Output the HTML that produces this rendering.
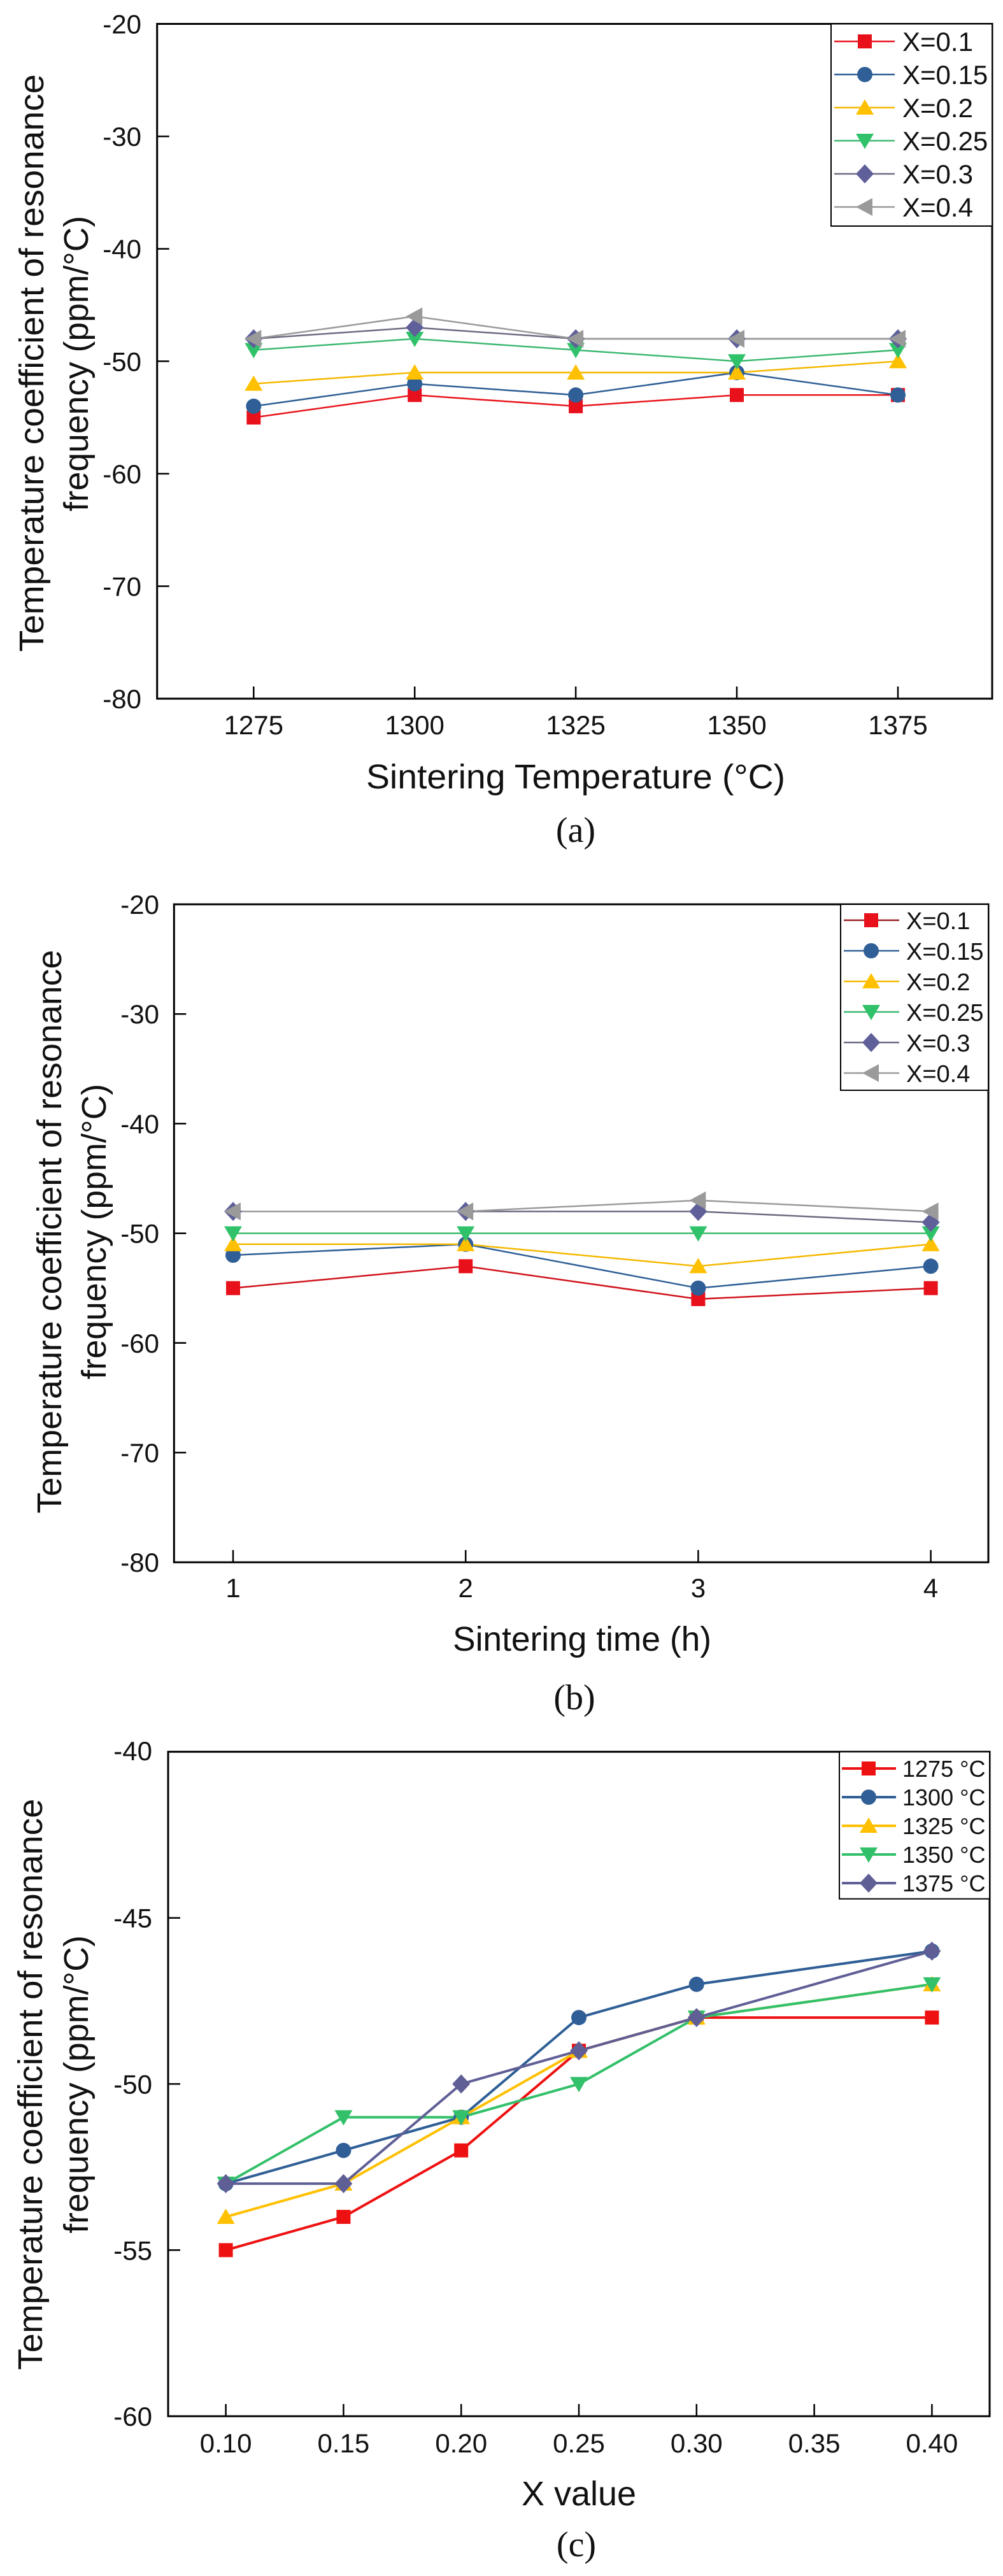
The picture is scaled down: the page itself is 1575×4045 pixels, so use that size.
<!DOCTYPE html>
<html>
<head>
<meta charset="utf-8">
<style>
  html,body{margin:0;padding:0;background:#fff;}
  svg{display:block;}
  .t{font-family:"Liberation Sans",Arial,sans-serif;fill:#111;}
  .s{font-family:"Liberation Serif","Times New Roman",serif;fill:#111;}
</style>
</head>
<body>
<svg width="1575" height="4045" viewBox="0 0 1575 4045" xmlns="http://www.w3.org/2000/svg">
<defs>
  <rect id="sq" x="-11" y="-11" width="22" height="22"/>
  <circle id="ci" cx="0" cy="0" r="12"/>
  <polygon id="tu" points="-14,11 14,11 0,-13"/>
  <polygon id="td" points="-14,-11 14,-11 0,13"/>
  <polygon id="di" points="0,-15 14,0 0,15 -14,0"/>
  <polygon id="tl" points="-14,0 12,-14 12,14"/>
</defs>
<rect width="1575" height="4045" fill="#fff"/>

<!-- ================= (a) ================= -->
<g>
  <rect x="246.7" y="37.5" width="1311.3" height="1059.6" fill="none" stroke="#000" stroke-width="3"/>
  <g stroke="#000" stroke-width="2.5">
    <line x1="246.7" y1="214.1" x2="265.7" y2="214.1"/>
    <line x1="246.7" y1="390.7" x2="265.7" y2="390.7"/>
    <line x1="246.7" y1="567.3" x2="265.7" y2="567.3"/>
    <line x1="246.7" y1="743.9" x2="265.7" y2="743.9"/>
    <line x1="246.7" y1="920.5" x2="265.7" y2="920.5"/>
    <line x1="398.3" y1="1097.1" x2="398.3" y2="1078"/>
    <line x1="651.2" y1="1097.1" x2="651.2" y2="1078"/>
    <line x1="904.1" y1="1097.1" x2="904.1" y2="1078"/>
    <line x1="1157" y1="1097.1" x2="1157" y2="1078"/>
    <line x1="1410" y1="1097.1" x2="1410" y2="1078"/>
  </g>
  <g class="t" font-size="42" text-anchor="end">
    <text x="222" y="52.5">-20</text>
    <text x="222" y="229.1">-30</text>
    <text x="222" y="405.7">-40</text>
    <text x="222" y="582.3">-50</text>
    <text x="222" y="758.9">-60</text>
    <text x="222" y="935.5">-70</text>
    <text x="222" y="1112.1">-80</text>
  </g>
  <g class="t" font-size="42" text-anchor="middle">
    <text x="398.3" y="1153">1275</text>
    <text x="651.2" y="1153">1300</text>
    <text x="904.1" y="1153">1325</text>
    <text x="1157" y="1153">1350</text>
    <text x="1410" y="1153">1375</text>
  </g>
  <text class="t" font-size="54" text-anchor="middle" x="904" y="1238" textLength="658" lengthAdjust="spacingAndGlyphs">Sintering Temperature (°C)</text>
  <text class="t" font-size="54" text-anchor="middle" transform="translate(68 570) rotate(-90)" textLength="907" lengthAdjust="spacingAndGlyphs">Temperature coefficient of resonance</text>
  <text class="t" font-size="54" text-anchor="middle" transform="translate(138 571) rotate(-90)" textLength="464" lengthAdjust="spacingAndGlyphs">frequency (ppm/°C)</text>
  <text class="s" font-size="56" text-anchor="middle" x="904" y="1322">(a)</text>

  <g fill="none" stroke-width="2.5" stroke-linejoin="round">
    <polyline stroke="#e8141c" points="398.3,655.6 651.2,620.3 904.1,637.9 1157,620.3 1410,620.3"/>
    <polyline stroke="#2f5f96" points="398.3,637.9 651.2,602.6 904.1,620.3 1157,585 1410,620.3"/>
    <polyline stroke="#f5b800" points="398.3,602.6 651.2,585 904.1,585 1157,585 1410,567.3"/>
    <polyline stroke="#3db872" points="398.3,549.6 651.2,532 904.1,549.6 1157,567.3 1410,549.6"/>
    <polyline stroke="#6b6b82" points="398.3,532 651.2,514.3 904.1,532 1157,532 1410,532"/>
    <polyline stroke="#9a9a9a" points="398.3,532 651.2,496.7 904.1,532 1157,532 1410,532"/>
  </g>
  <g fill="#e8101a">
    <use href="#sq" x="398.3" y="655.6"/><use href="#sq" x="651.2" y="620.3"/><use href="#sq" x="904.1" y="637.9"/><use href="#sq" x="1157" y="620.3"/><use href="#sq" x="1410" y="620.3"/>
  </g>
  <g fill="#2f5f96">
    <use href="#ci" x="398.3" y="637.9"/><use href="#ci" x="651.2" y="602.6"/><use href="#ci" x="904.1" y="620.3"/><use href="#ci" x="1157" y="585"/><use href="#ci" x="1410" y="620.3"/>
  </g>
  <g fill="#ffc000">
    <use href="#tu" x="398.3" y="602.6"/><use href="#tu" x="651.2" y="585"/><use href="#tu" x="904.1" y="585"/><use href="#tu" x="1157" y="585"/><use href="#tu" x="1410" y="567.3"/>
  </g>
  <g fill="#30c26a">
    <use href="#td" x="398.3" y="549.6"/><use href="#td" x="651.2" y="532"/><use href="#td" x="904.1" y="549.6"/><use href="#td" x="1157" y="567.3"/><use href="#td" x="1410" y="549.6"/>
  </g>
  <g fill="#5f5f9a">
    <use href="#di" x="398.3" y="532"/><use href="#di" x="651.2" y="514.3"/><use href="#di" x="904.1" y="532"/><use href="#di" x="1157" y="532"/><use href="#di" x="1410" y="532"/>
  </g>
  <g fill="#9a9a9a">
    <use href="#tl" x="398.3" y="532"/><use href="#tl" x="651.2" y="496.7"/><use href="#tl" x="904.1" y="532"/><use href="#tl" x="1157" y="532"/><use href="#tl" x="1410" y="532"/>
  </g>

  <!-- legend a -->
  <rect x="1305" y="37.5" width="253" height="317.5" fill="#fff" stroke="#000" stroke-width="2"/>
  <g stroke-width="2.5">
    <line x1="1310" y1="65" x2="1405" y2="65" stroke="#e8141c"/>
    <line x1="1310" y1="117" x2="1405" y2="117" stroke="#2f5f96"/>
    <line x1="1310" y1="169" x2="1405" y2="169" stroke="#f5b800"/>
    <line x1="1310" y1="221" x2="1405" y2="221" stroke="#3db872"/>
    <line x1="1310" y1="273" x2="1405" y2="273" stroke="#6b6b82"/>
    <line x1="1310" y1="325" x2="1405" y2="325" stroke="#9a9a9a"/>
  </g>
  <use href="#sq" x="1358" y="65" fill="#e8101a"/>
  <use href="#ci" x="1358" y="117" fill="#2f5f96"/>
  <use href="#tu" x="1358" y="169" fill="#ffc000"/>
  <use href="#td" x="1358" y="221" fill="#30c26a"/>
  <use href="#di" x="1358" y="273" fill="#5f5f9a"/>
  <use href="#tl" x="1358" y="325" fill="#9a9a9a"/>
  <g class="t" font-size="42">
    <text x="1417" y="80">X=0.1</text>
    <text x="1417" y="132">X=0.15</text>
    <text x="1417" y="184">X=0.2</text>
    <text x="1417" y="236">X=0.25</text>
    <text x="1417" y="288">X=0.3</text>
    <text x="1417" y="340">X=0.4</text>
  </g>
</g>

<!-- ================= (b) ================= -->
<g>
  <rect x="273.3" y="1420" width="1278.7" height="1033.2" fill="none" stroke="#000" stroke-width="3"/>
  <g stroke="#000" stroke-width="2.5">
    <line x1="273.3" y1="1592.2" x2="292.3" y2="1592.2"/>
    <line x1="273.3" y1="1764.4" x2="292.3" y2="1764.4"/>
    <line x1="273.3" y1="1936.6" x2="292.3" y2="1936.6"/>
    <line x1="273.3" y1="2108.8" x2="292.3" y2="2108.8"/>
    <line x1="273.3" y1="2281" x2="292.3" y2="2281"/>
    <line x1="366" y1="2453.2" x2="366" y2="2434"/>
    <line x1="731.2" y1="2453.2" x2="731.2" y2="2434"/>
    <line x1="1096.4" y1="2453.2" x2="1096.4" y2="2434"/>
    <line x1="1461.6" y1="2453.2" x2="1461.6" y2="2434"/>
  </g>
  <g class="t" font-size="42" text-anchor="end">
    <text x="250" y="1435">-20</text>
    <text x="250" y="1607.2">-30</text>
    <text x="250" y="1779.4">-40</text>
    <text x="250" y="1951.6">-50</text>
    <text x="250" y="2123.8">-60</text>
    <text x="250" y="2296">-70</text>
    <text x="250" y="2468.2">-80</text>
  </g>
  <g class="t" font-size="42" text-anchor="middle">
    <text x="366" y="2508">1</text>
    <text x="731.2" y="2508">2</text>
    <text x="1096.4" y="2508">3</text>
    <text x="1461.6" y="2508">4</text>
  </g>
  <text class="t" font-size="53.5" text-anchor="middle" x="914" y="2592" textLength="406" lengthAdjust="spacingAndGlyphs">Sintering time (h)</text>
  <text class="t" font-size="53.5" text-anchor="middle" transform="translate(96 1934) rotate(-90)" textLength="885" lengthAdjust="spacingAndGlyphs">Temperature coefficient of resonance</text>
  <text class="t" font-size="53.5" text-anchor="middle" transform="translate(166 1934) rotate(-90)" textLength="464" lengthAdjust="spacingAndGlyphs">frequency (ppm/°C)</text>
  <text class="s" font-size="56" text-anchor="middle" x="902" y="2684">(b)</text>

  <g fill="none" stroke-width="2.5" stroke-linejoin="round">
    <polyline stroke="#d0121c" points="366,2022.7 731.2,1988.3 1096.4,2039.9 1461.6,2022.7"/>
    <polyline stroke="#2f5f96" points="366,1971 731.2,1953.8 1096.4,2022.7 1461.6,1988.3"/>
    <polyline stroke="#f5b800" points="366,1953.8 731.2,1953.8 1096.4,1988.3 1461.6,1953.8"/>
    <polyline stroke="#3dbd70" points="366,1936.6 731.2,1936.6 1096.4,1936.6 1461.6,1936.6"/>
    <polyline stroke="#6b6b82" points="366,1902.2 731.2,1902.2 1096.4,1902.2 1461.6,1919.4"/>
    <polyline stroke="#9a9a9a" points="366,1902.2 731.2,1902.2 1096.4,1884.9 1461.6,1902.2"/>
  </g>
  <g fill="#e8101a">
    <use href="#sq" x="366" y="2022.7"/><use href="#sq" x="731.2" y="1988.3"/><use href="#sq" x="1096.4" y="2039.9"/><use href="#sq" x="1461.6" y="2022.7"/>
  </g>
  <g fill="#2f5f96">
    <use href="#ci" x="366" y="1971"/><use href="#ci" x="731.2" y="1953.8"/><use href="#ci" x="1096.4" y="2022.7"/><use href="#ci" x="1461.6" y="1988.3"/>
  </g>
  <g fill="#ffc000">
    <use href="#tu" x="366" y="1953.8"/><use href="#tu" x="731.2" y="1953.8"/><use href="#tu" x="1096.4" y="1988.3"/><use href="#tu" x="1461.6" y="1953.8"/>
  </g>
  <g fill="#30c26a">
    <use href="#td" x="366" y="1936.6"/><use href="#td" x="731.2" y="1936.6"/><use href="#td" x="1096.4" y="1936.6"/><use href="#td" x="1461.6" y="1936.6"/>
  </g>
  <g fill="#5f5f9a">
    <use href="#di" x="366" y="1902.2"/><use href="#di" x="731.2" y="1902.2"/><use href="#di" x="1096.4" y="1902.2"/><use href="#di" x="1461.6" y="1919.4"/>
  </g>
  <g fill="#9a9a9a">
    <use href="#tl" x="366" y="1902.2"/><use href="#tl" x="731.2" y="1902.2"/><use href="#tl" x="1096.4" y="1884.9"/><use href="#tl" x="1461.6" y="1902.2"/>
  </g>

  <!-- legend b -->
  <rect x="1320" y="1420" width="232" height="292" fill="#fff" stroke="#000" stroke-width="2"/>
  <g stroke-width="2.5">
    <line x1="1325" y1="1445" x2="1412" y2="1445" stroke="#9a1c24"/>
    <line x1="1325" y1="1493" x2="1412" y2="1493" stroke="#2f5f96"/>
    <line x1="1325" y1="1541" x2="1412" y2="1541" stroke="#f5b800"/>
    <line x1="1325" y1="1589" x2="1412" y2="1589" stroke="#3db872"/>
    <line x1="1325" y1="1637" x2="1412" y2="1637" stroke="#6b6b82"/>
    <line x1="1325" y1="1685" x2="1412" y2="1685" stroke="#9a9a9a"/>
  </g>
  <use href="#sq" x="1368" y="1445" fill="#e8101a"/>
  <use href="#ci" x="1368" y="1493" fill="#2f5f96"/>
  <use href="#tu" x="1368" y="1541" fill="#ffc000"/>
  <use href="#td" x="1368" y="1589" fill="#30c26a"/>
  <use href="#di" x="1368" y="1637" fill="#5f5f9a"/>
  <use href="#tl" x="1368" y="1685" fill="#9a9a9a"/>
  <g class="t" font-size="38">
    <text x="1423" y="1459">X=0.1</text>
    <text x="1423" y="1507">X=0.15</text>
    <text x="1423" y="1555">X=0.2</text>
    <text x="1423" y="1603">X=0.25</text>
    <text x="1423" y="1651">X=0.3</text>
    <text x="1423" y="1699">X=0.4</text>
  </g>
</g>

<!-- ================= (c) ================= -->
<g>
  <rect x="264" y="2750.7" width="1290" height="1043.4" fill="none" stroke="#000" stroke-width="3"/>
  <g stroke="#000" stroke-width="2.5">
    <line x1="264" y1="3011.6" x2="283" y2="3011.6"/>
    <line x1="264" y1="3272.4" x2="283" y2="3272.4"/>
    <line x1="264" y1="3533.3" x2="283" y2="3533.3"/>
    <line x1="354.6" y1="3794.1" x2="354.6" y2="3775"/>
    <line x1="539.4" y1="3794.1" x2="539.4" y2="3775"/>
    <line x1="724.2" y1="3794.1" x2="724.2" y2="3775"/>
    <line x1="909" y1="3794.1" x2="909" y2="3775"/>
    <line x1="1093.8" y1="3794.1" x2="1093.8" y2="3775"/>
    <line x1="1278.6" y1="3794.1" x2="1278.6" y2="3775"/>
    <line x1="1463.4" y1="3794.1" x2="1463.4" y2="3775"/>
  </g>
  <g class="t" font-size="42" text-anchor="end">
    <text x="239" y="2764">-40</text>
    <text x="239" y="3026.6">-45</text>
    <text x="239" y="3287.4">-50</text>
    <text x="239" y="3548.3">-55</text>
    <text x="239" y="3809.1">-60</text>
  </g>
  <g class="t" font-size="42" text-anchor="middle">
    <text x="354.6" y="3851">0.10</text>
    <text x="539.4" y="3851">0.15</text>
    <text x="724.2" y="3851">0.20</text>
    <text x="909" y="3851">0.25</text>
    <text x="1093.8" y="3851">0.30</text>
    <text x="1278.6" y="3851">0.35</text>
    <text x="1463.4" y="3851">0.40</text>
  </g>
  <text class="t" font-size="54" text-anchor="middle" x="909" y="3934" textLength="180" lengthAdjust="spacingAndGlyphs">X value</text>
  <text class="t" font-size="54" text-anchor="middle" transform="translate(66 3273) rotate(-90)" textLength="897" lengthAdjust="spacingAndGlyphs">Temperature coefficient of resonance</text>
  <text class="t" font-size="54" text-anchor="middle" transform="translate(138 3273) rotate(-90)" textLength="468" lengthAdjust="spacingAndGlyphs">frequency (ppm/°C)</text>
  <text class="s" font-size="56" text-anchor="middle" x="905" y="4014">(c)</text>

  <g fill="none" stroke-width="4" stroke-linejoin="round">
    <polyline stroke="#ee1111" points="354.6,3533.3 539.4,3481.1 724.2,3376.7 909,3220.2 1093.8,3168.1 1463.4,3168.1"/>
    <polyline stroke="#2f5f96" points="354.6,3428.9 539.4,3376.7 724.2,3324.6 909,3168.1 1093.8,3115.9 1463.4,3063.7"/>
    <polyline stroke="#ffc000" points="354.6,3481.1 539.4,3428.9 724.2,3324.6 909,3220.2 1093.8,3168.1 1463.4,3115.9"/>
    <polyline stroke="#33c06a" points="354.6,3428.9 539.4,3324.6 724.2,3324.6 909,3272.4 1093.8,3168.1 1463.4,3115.9"/>
    <polyline stroke="#5f5f96" points="354.6,3428.9 539.4,3428.9 724.2,3272.4 909,3220.2 1093.8,3168.1 1463.4,3063.7"/>
  </g>
  <g fill="#ee1111">
    <use href="#sq" x="354.6" y="3533.3"/><use href="#sq" x="539.4" y="3481.1"/><use href="#sq" x="724.2" y="3376.7"/><use href="#sq" x="909" y="3220.2"/><use href="#sq" x="1093.8" y="3168.1"/><use href="#sq" x="1463.4" y="3168.1"/>
  </g>
  <g fill="#2f5f96">
    <use href="#ci" x="354.6" y="3428.9"/><use href="#ci" x="539.4" y="3376.7"/><use href="#ci" x="724.2" y="3324.6"/><use href="#ci" x="909" y="3168.1"/><use href="#ci" x="1093.8" y="3115.9"/><use href="#ci" x="1463.4" y="3063.7"/>
  </g>
  <g fill="#ffc000">
    <use href="#tu" x="354.6" y="3481.1"/><use href="#tu" x="539.4" y="3428.9"/><use href="#tu" x="724.2" y="3324.6"/><use href="#tu" x="909" y="3220.2"/><use href="#tu" x="1093.8" y="3168.1"/><use href="#tu" x="1463.4" y="3115.9"/>
  </g>
  <g fill="#33c06a">
    <use href="#td" x="354.6" y="3428.9"/><use href="#td" x="539.4" y="3324.6"/><use href="#td" x="724.2" y="3324.6"/><use href="#td" x="909" y="3272.4"/><use href="#td" x="1093.8" y="3168.1"/><use href="#td" x="1463.4" y="3115.9"/>
  </g>
  <g fill="#5f5f96">
    <use href="#di" x="354.6" y="3428.9"/><use href="#di" x="539.4" y="3428.9"/><use href="#di" x="724.2" y="3272.4"/><use href="#di" x="909" y="3220.2"/><use href="#di" x="1093.8" y="3168.1"/><use href="#di" x="1463.4" y="3063.7"/>
  </g>

  <!-- legend c -->
  <rect x="1318" y="2750.7" width="236" height="231" fill="#fff" stroke="#000" stroke-width="2"/>
  <g stroke-width="4">
    <line x1="1322" y1="2777" x2="1407" y2="2777" stroke="#ee1111"/>
    <line x1="1322" y1="2822" x2="1407" y2="2822" stroke="#2f5f96"/>
    <line x1="1322" y1="2867" x2="1407" y2="2867" stroke="#ffc000"/>
    <line x1="1322" y1="2912" x2="1407" y2="2912" stroke="#33c06a"/>
    <line x1="1322" y1="2957" x2="1407" y2="2957" stroke="#5f5f96"/>
  </g>
  <use href="#sq" x="1364" y="2777" fill="#ee1111"/>
  <use href="#ci" x="1364" y="2822" fill="#2f5f96"/>
  <use href="#tu" x="1364" y="2867" fill="#ffc000"/>
  <use href="#td" x="1364" y="2912" fill="#33c06a"/>
  <use href="#di" x="1364" y="2957" fill="#5f5f96"/>
  <g class="t" font-size="36">
    <text x="1417" y="2790">1275 °C</text>
    <text x="1417" y="2835">1300 °C</text>
    <text x="1417" y="2880">1325 °C</text>
    <text x="1417" y="2925">1350 °C</text>
    <text x="1417" y="2970">1375 °C</text>
  </g>
</g>
</svg>
</body>
</html>
